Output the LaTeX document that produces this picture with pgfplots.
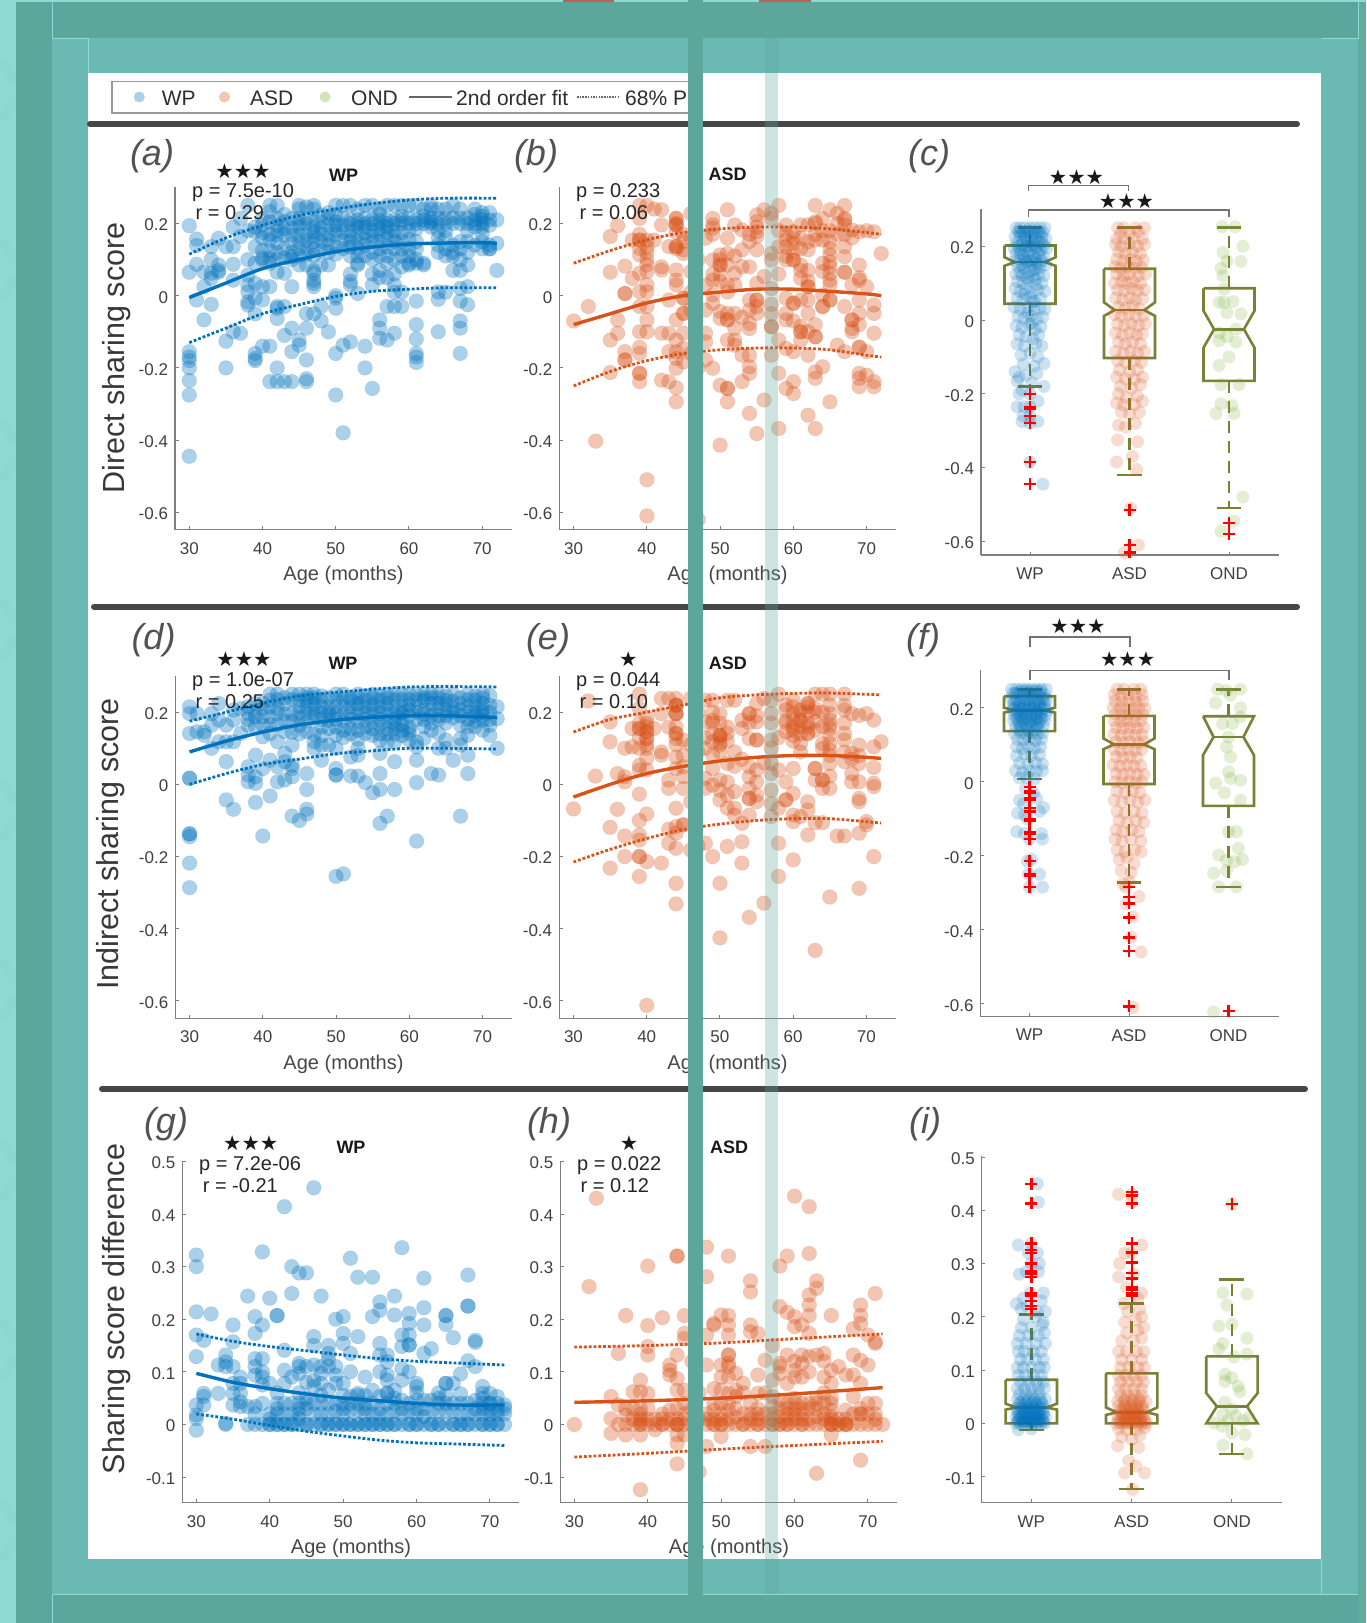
\documentclass[border=0pt]{standalone}
\usepackage{fontspec}
\usepackage{pgfplots}
\pgfplotsset{compat=1.18}
\setmainfont{Liberation Sans}
\newfontfamily\symf{DejaVu Sans}
\definecolor{wp}{HTML}{0072BD}
\definecolor{asd}{HTML}{D95319}
\definecolor{ond}{HTML}{77AC30}
\definecolor{bx}{HTML}{7A8036}
\definecolor{tdark}{HTML}{5CA69C}
\definecolor{tmed}{HTML}{6BB9B3}
\definecolor{tlight}{HTML}{8FDAD2}
\definecolor{axc}{HTML}{7F7F7F}
\definecolor{tkc}{HTML}{404040}
\definecolor{redbit}{HTML}{B5655F}
\newcommand\fs[1]{\fontsize{#1}{#1}\selectfont}
\pgfplotsset{
 base/.style={scale only axis,anchor=south west,clip=false,axis x line*=bottom,axis y line*=left,
  tick align=inside,major tick length=3.5pt,axis line style={draw=axc,line width=1.3pt},
  tick style={draw=axc,line width=1pt},
  tick label style={font=\fs{17},text=tkc},
  xticklabel shift=9pt,
  yticklabel style={xshift=-3.5pt,yshift=-1.5pt},
  scaled ticks=false},
 scat/.style={base,width=336.5pt,height=342.2pt,xmin=28.05,xmax=74,ymin=-.648,ymax=.3,
  xtick={30,40,50,60,70},xticklabels={30,40,50,60,70},
  ytick={-.6,-.4,-.2,0,.2},yticklabels={-0.6,-0.4,-0.2,0,0.2}},
 diffy/.style={ytick={-.1,0,.1,.2,.3,.4,.5},yticklabels={-0.1,0,0.1,0.2,0.3,0.4,0.5}},
 bxa/.style={base,xtick={1,2,3},xticklabels={WP,ASD,OND},ytick={-.6,-.4,-.2,0,.2},yticklabels={-0.6,-0.4,-0.2,0,0.2}},
 mw/.style={only marks,mark=*,mark size=7.4pt,mark options={fill=wp,fill opacity=.33,draw=wp,draw opacity=.12,line width=.6pt}},
 ma/.style={only marks,mark=*,mark size=7.4pt,mark options={fill=asd,fill opacity=.33,draw=asd,draw opacity=.12,line width=.6pt}},
 jw/.style={only marks,mark=*,mark size=6.5pt,mark options={fill=wp,fill opacity=.2,draw=wp,draw opacity=0,line width=0pt}},
 ja/.style={only marks,mark=*,mark size=6.5pt,mark options={fill=asd,fill opacity=.2,draw=asd,draw opacity=0,line width=0pt}},
 jo/.style={only marks,mark=*,mark size=6.5pt,mark options={fill=ond,fill opacity=.2,draw=ond,draw opacity=0,line width=0pt}},
 fl/.style={smooth,line width=3.4pt,#1,no marks},
 fd/.style={smooth,line width=2.8pt,#1,no marks,dash pattern=on 2.8pt off 2pt},
 boxl/.style={bx,line width=2.6pt,no marks,line join=miter},
 whk/.style={bx,line width=2.8pt,no marks,dash pattern=on 12pt off 8pt},
 out/.style={only marks,mark=+,mark size=6pt,mark options={draw=red,line width=2.3pt}},
}
\newcommand\NB[8]{%
 \pgfmathsetmacro\xl{#1-.256}\pgfmathsetmacro\xr{#1+.256}\pgfmathsetmacro\nl{#1-.15}\pgfmathsetmacro\nr{#1+.15}\pgfmathsetmacro\cl{#1-.125}\pgfmathsetmacro\cr{#1+.125}%
 \edef\tmp{\noexpand\addplot[boxl] coordinates {(\xl,#2)(\xr,#2)(\xr,#3)(\nr,#4)(\xr,#5)(\xr,#6)(\xl,#6)(\xl,#5)(\nl,#4)(\xl,#3)(\xl,#2)};
 \noexpand\addplot[boxl] coordinates {(\nl,#4)(\nr,#4)};
 \noexpand\addplot[whk] coordinates {(#1,#2)(#1,#7)};
 \noexpand\addplot[whk] coordinates {(#1,#6)(#1,#8)};
 \noexpand\addplot[boxl] coordinates {(\cl,#7)(\cr,#7)};
 \noexpand\addplot[boxl] coordinates {(\cl,#8)(\cr,#8)};}\tmp}
\begin{document}
\begin{tikzpicture}
\begin{scope}[x=1pt,y=-1pt]
\clip (0,0) rectangle (1366,1623);
\fill[tlight] (0,0) rectangle (1366,1623);
\foreach \q in {60,240,420,600,780,960,1140,1320,1500}{\draw[line width=9pt,color=tlight!94!tdark] (0,\q) -- (16,\q+22) (0,\q+60) -- (16,\q+38);}
\fill[tdark] (16,2) rectangle (1358,1623);
\fill[tmed] (52,38) rectangle (1358,1594);
\fill[tdark!80!tmed] (1358,2) rectangle (1366,1623);
\fill[white] (87.5,73) rectangle (1321,1559);
\fill[redbit] (563,0) rectangle (614,2) (759,0) rectangle (811,2);
\draw[tlight,line width=.8pt] (52,2) -- (52,38) -- (88,38) -- (88,73);
\draw[tlight,line width=.8pt] (1358,2) -- (1358,38) -- (1322,38);
\draw[tlight,line width=.8pt] (52,1623) -- (52,1594) -- (1358,1594);
\draw[tlight,line width=.8pt] (1321,1559) -- (1321,1594);
\draw[black!40,line width=1.4pt] (112,81.5) rectangle (695,113);
\draw[black!72,line width=6pt,line cap=round] (90,124.3) -- (1297,124.3);
\draw[black!72,line width=6pt,line cap=round] (94,606.7) -- (1297,606.7);
\draw[black!72,line width=6pt,line cap=round] (102,1088.7) -- (1305,1088.7);
\end{scope}

% legend symbols
\begin{axis}[scale only axis,hide axis,anchor=south west,at={(112pt,-113pt)},width=583pt,height=31.5pt,xmin=112,xmax=695,ymin=81.5,ymax=113,y dir=reverse,clip=false]
\addplot[only marks,mark=*,mark size=5.5pt,mark options={fill=wp,fill opacity=.33,draw=wp,draw opacity=0}] coordinates {(139.3,97)};
\addplot[only marks,mark=*,mark size=5.5pt,mark options={fill=asd,fill opacity=.33,draw=asd,draw opacity=0}] coordinates {(224.5,97)};
\addplot[only marks,mark=*,mark size=5.5pt,mark options={fill=ond,fill opacity=.33,draw=ond,draw opacity=0}] coordinates {(325,97)};
\addplot[black!60,line width=1.8pt,no marks] coordinates {(408.5,97)(452,97)};
\addplot[black!60,line width=1.6pt,no marks,dash pattern=on 1.5pt off 1.2pt] coordinates {(577,97)(620,97)};
\end{axis}

% (a)
\begin{axis}[scat,at={(175pt,-529.6pt)}]
\addplot[mw] coordinates {(30,.194)(30,.065)(30,-.155)(30,-.17)(30,-.18)(30,-.2)(30,-.235)(30,-.275)(30,-.445)
(31,.157)(31,.139)(31,.087)(31,-.012)(32,.065)(32,.025)(32,-.067)(33,.136)(33,.1)(33,.062)(33,.048)(33,-.024)
(34,.159)(34,.085)(34,.07)(34,.065)(35,.136)(35,-.126)(35,-.2)(36,.19)(36,.136)(36,.087)(36,.043)(36,-.1)
(37,.214)(37,.164)(37,-.104)(38,.25)(38,.18)(38,.1)(38,.057)(38,.03)(38,.011)(38,-.017)(38,-.026)
(39,.177)(39,.136)(39,.09)(39,.034)(39,-.007)(39,-.05)(39,-.16)(39,-.174)(39,-.18)
(40,.214)(40,.196)(40,.159)(40,.1)(40,.105)(40,.025)(40,-.012)(40,-.14)
(41,.25)(41,.233)(41,.205)(41,.154)(41,.103)(41,.09)(41,.025)(41,-.14)(41,-.238)
(42,.25)(42,.214)(42,.18)(42,.168)(42,.1)(42,.065)(42,-.03)(42,-.035)(42,-.063)(42,-.2)(42,-.238)
(43,.205)(43,.168)(43,.131)(43,.062)(43,-.03)(43,-.11)(43,-.238)
(44,.214)(44,.187)(44,.168)(44,.108)(44,.1)(44,.025)(44,-.09)(44,-.155)(44,-.238)
(45,.25)(45,.24)(45,.214)(45,.19)(45,.168)(45,.15)(45,.131)(45,.085)(45,-.123)(45,-.137)
(46,.246)(46,.214)(46,.2)(46,.154)(46,.131)(46,.085)(46,-.05)(46,-.09)(46,-.178)(46,-.23)(46,-.238)
(47,.25)(47,.24)(47,.205)(47,.177)(47,.15)(47,.131)(47,.07)(47,.062)(47,.043)(47,.034)(47,.025)(47,-.05)
(48,.224)(48,.187)(48,.15)(48,.085)(48,-.03)(48,-.07)(49,.214)(49,.196)(49,.17)(49,.14)(49,.085)(49,-.1)
(50,.25)(50,.224)(50,.205)(50,.196)(50,.168)(50,.136)(50,0)(50,-.007)(50,-.035)(50,-.16)(50,-.275)
(51,.25)(51,.196)(51,.131)(51,-.137)(51,-.38)
(52,.25)(52,.2)(52,.18)(52,.15)(52,.11)(52,.06)(52,.04)(52,.03)(52,-.128)
(53,.24)(53,.21)(53,.19)(53,.15)(53,.11)(53,.09)(53,.085)(53,.006)
(54,.25)(54,.2)(54,.19)(54,.14)(54,.11)(54,-.14)(54,-.2)
(55,.25)(55,.2)(55,.18)(55,.15)(55,.12)(55,.1)(55,.06)(55,.03)(55,-.257)
(56,.24)(56,.21)(56,.2)(56,.17)(56,.13)(56,.07)(56,.05)(56,-.067)(56,-.09)(56,-.118)
(57,.25)(57,.2)(57,.19)(57,.16)(57,.11)(57,.09)(57,.05)(57,-.03)(57,-.123)
(58,.25)(58,.21)(58,.18)(58,.15)(58,.13)(58,.1)(58,.06)(58,.03)(58,.01)(58,-.03)(58,-.104)
(59,.25)(59,.22)(59,.2)(59,.15)(59,.13)(59,.08)(59,.01)(59,-.03)
(60,.25)(60,.2)(60,.18)(60,.13)(60,.09)(60,.085)
(61,.25)(61,.21)(61,.2)(61,.13)(61,.1)(61,.09)(61,-.015)(61,-.08)(61,-.12)(61,-.16)(61,-.17)(61,-.185)
(62,.22)(62,.2)(62,.09)(62,.085)(63,.25)(63,.24)(63,.2)(63,.205)
(64,.24)(64,.2)(64,.16)(64,.14)(64,.12)(64,.01)(64,-.01)(64,-.1)
(65,.24)(65,.2)(65,.16)(65,.13)(65,.11)(65,.01)(66,.25)(66,.2)(66,.14)(66,.11)(66,.07)
(67,.24)(67,.2)(67,.15)(67,.1)(67,.07)(67,.02)(67,-.015)(67,-.07)(67,-.09)(67,-.16)
(68,.2)(68,.15)(68,.12)(68,.085)(68,.025)(68,-.025)
(69,.24)(69,.21)(69,.2)(69,.14)(70,.23)(70,.21)(70,.19)(70,.17)(70,.15)(70,.13)
(71,.21)(71,.14)(71,.13)(71,.13)(72,.21)(72,.145)(72,.07)
(39,.19)(40,.175)(40,.125)(41,.17)(41,.125)(42,.195)(42,.145)(42,.12)(43,.225)(43,.185)(43,.105)(44,.145)(44,.12)(45,.2)(45,.11)(46,.17)(46,.115)(47,.19)(47,.165)(47,.112)(48,.205)(48,.17)(48,.125)(49,.23)(49,.155)(49,.12)(50,.18)(50,.115)(51,.215)(51,.175)(51,.152)(52,.21)(52,.165)(52,.135)(53,.2)(53,.17)(53,.13)(54,.215)(54,.175)(54,.155)(55,.21)(55,.165)(56,.225)(56,.185)(56,.15)(56,.11)(57,.21)(57,.175)(57,.135)(58,.2)(58,.165)(59,.21)(59,.175)(59,.11)(60,.215)(60,.155)(60,.11)(61,.185)(61,.15)(62,.24)(62,.21)(63,.215)(63,.19)(64,.215)(64,.18)(65,.215)(65,.18)(66,.215)(66,.12)(67,.215)(67,.13)(68,.215)(68,.18)(69,.225)(69,.19)(70,.2)(70,.22)(71,.195)(71,.23)};
\addplot[fd=wp] coordinates {(30,.115)(35,.16)(40,.195)(45,.222)(50,.24)(55,.255)(60,.265)(65,.27)(72,.27)};
\addplot[fd=wp] coordinates {(30,-.13)(35,-.09)(40,-.05)(45,-.025)(50,-.002)(55,.012)(60,.018)(65,.022)(72,.022)};
\addplot[fl=wp] coordinates {(30,-.005)(35,.035)(40,.075)(45,.1)(50,.122)(55,.135)(60,.143)(65,.146)(70,.147)(72,.145)};
\end{axis}

% (b)
\begin{axis}[scat,at={(559.4pt,-529.6pt)}]
\addplot[ma] coordinates {(30,-.07)(32,-.03)(33,-.403)(35,.164)(35,.065)(35,-.123)(35,-.213)(36,.194)(36,-.067)(36,-.104)
(37,.082)(37,.006)(37,.006)(37,-.155)(37,-.178)(37,-.178)(38,.154)(38,.048)
(39,.25)(39,.214)(39,.154)(39,.154)(39,.131)(39,.113)(39,.062)(39,.011)(39,-.03)(39,-.1)(39,-.143)(39,-.16)(39,-.215)(39,-.215)(39,-.238)
(40,.25)(40,.154)(40,.099)(40,.085)(40,.067)(40,.03)(40,.011)(40,-.03)(40,-.067)(40,-.1)(40,-.51)(40,-.61)
(41,.24)(41,.154)(42,.238)(42,.196)(42,.08)(42,.071)(42,-.104)(42,-.234)
(43,.136)(43,-.012)(43,-.104)(43,-.155)(43,-.238)
(44,.214)(44,.214)(44,.196)(44,.196)(44,.136)(44,.136)(44,.071)(44,.043)(44,.03)(44,-.067)(44,-.123)(44,-.155)(44,-.174)(44,-.201)(44,-.255)(44,-.294)
(45,.127)(45,.117)(45,-.007)(45,-.007)(45,-.049)(45,-.049)(45,-.104)(45,-.146)(45,-.183)
(46,.228)(46,.067)(46,.16)(46,-.04)(46,-.16)(47,.1)(47,-.2)(47,-.62)
(48,.159)(48,.03)(48,-.104)(48,-.128)(48,-.178)
(49,.214)(49,.196)(49,.187)(49,.099)(49,.043)(49,.002)(49,-.021)(49,-.201)
(50,.113)(50,.085)(50,.085)(50,.039)(50,-.044)(50,-.063)(50,-.248)(50,-.414)
(51,.238)(51,.159)(51,.117)(51,.03)(51,-.049)(51,-.067)(51,-.067)(51,-.123)(51,-.257)(51,-.257)(51,-.294)
(52,.196)(52,.062)(52,.03)(52,-.049)(52,-.123)(52,-.137)
(53,.182)(53,.127)(53,.08)(53,-.165)(53,-.238)
(54,.15)(54,.08)(54,-.012)(54,-.077)(54,-.091)(54,-.165)(54,-.197)(54,-.215)(54,-.326)
(55,.224)(55,.205)(55,.177)(55,.164)(55,.127)(55,.034)(55,-.012)(55,-.012)(55,-.049)(55,-.382)
(56,.238)(56,.053)(56,-.289)
(57,.228)(57,.214)(57,.117)(57,.099)(57,.02)(57,-.024)(57,-.086)(57,-.086)(57,-.165)
(58,.25)(58,.136)(58,-.123)(58,-.215)(58,-.368)
(59,.196)(59,.154)(59,.136)(59,.099)(59,-.007)(59,-.049)(59,-.067)(59,-.146)(59,-.257)
(60,.177)(60,.145)(60,.099)(60,.099)(60,-.021)(60,-.021)(60,-.155)(60,-.238)(60,-.271)
(61,.196)(61,.159)(61,.085)(61,.048)(61,-.012)(61,-.1)(61,-.1)(61,-.123)
(62,.196)(62,.127)(62,.025)(62,.025)(62,-.012)(62,-.049)(62,-.1)(62,-.165)(62,-.331)
(63,.25)(63,.205)(63,.154)(63,-.114)(63,-.114)(63,-.211)(63,-.229)(63,-.368)
(64,.214)(64,.154)(64,.067)(64,.002)(64,-.03)(64,-.03)(64,-.197)
(65,.238)(65,.15)(65,.131)(65,.113)(65,.094)(65,.062)(65,.043)(65,-.012)(65,-.012)(65,-.294)
(66,.228)(66,-.137)(67,.25)(67,.214)(67,.196)(67,.136)(67,.108)(67,.065)(67,.065)(67,-.03)(67,-.155)
(68,.182)(68,.03)(68,-.067)(68,-.067)(68,-.091)(68,-.1)
(69,.177)(69,.085)(69,.043)(69,-.012)(69,-.049)(69,-.143)(69,-.143)(69,-.215)(69,-.229)(69,-.252)
(70,.025)(70,-.155)(70,-.22)(71,.177)(71,-.026)(71,-.049)(71,-.104)(71,-.238)(71,-.252)(72,.117)
(39,.17)(40,.12)(40,.135)(44,.2)(44,.175)(44,.13)(45,.15)(49,.17)(49,.06)(50,.1)(50,.06)(51,.085)(51,.01)(52,.11)(54,.17)(55,.19)(55,-.03)(59,.17)(59,.11)(60,.16)(60,.12)(61,.13)(61,.07)(62,.15)(62,.07)(62,.04)(63,.2)(63,.17)(64,.18)(64,.09)(65,.18)(65,.08)(65,.03)(66,.2)(66,.17)(67,.21)(67,.17)(68,.16)(69,.05)(69,-.08)(70,.18)(53,-.06)(54,-.04)(57,-.05)(58,.18)(58,.06)(60,-.07)(61,-.085)(63,-.08)(52,-.09)(48,-.04)(46,.01)(45,.17)};
\addplot[fd=asd] coordinates {(30,.09)(35,.125)(40,.155)(45,.175)(50,.185)(55,.19)(60,.19)(65,.185)(70,.175)(72,.17)};
\addplot[fd=asd] coordinates {(30,-.25)(35,-.21)(40,-.18)(45,-.16)(50,-.15)(55,-.145)(60,-.145)(65,-.15)(70,-.165)(72,-.17)};
\addplot[fl=asd] coordinates {(30,-.08)(35,-.05)(40,-.02)(45,0)(50,.01)(55,.018)(60,.018)(65,.012)(70,.005)(72,0)};
\end{axis}

% (c)
\begin{axis}[bxa,at={(981pt,-555pt)},width=298pt,height=346.4pt,xmin=.5075,xmax=3.5025,ymin=-.637,ymax=.302]
\addplot[jw] coordinates {(.86,.25)(.9,.25)(.95,.25)(1,.25)(1.05,.25)(1.1,.25)(1.15,.25)(.88,.24)(.93,.238)(.97,.24)(1.03,.238)(1.08,.24)(1.13,.238)(.85,.225)(.9,.228)(.96,.222)(1.01,.226)(1.06,.22)(1.12,.225)(1.16,.22)(.87,.21)(.92,.205)(.98,.212)(1.04,.206)(1.09,.21)(1.14,.203)(.84,.195)(.9,.19)(.95,.197)(1,.19)(1.05,.195)(1.11,.19)(1.17,.195)(.86,.18)(.93,.175)(.98,.18)(1.03,.175)(1.08,.18)(1.14,.172)(.85,.16)(.9,.165)(.96,.158)(1.01,.162)(1.06,.155)(1.12,.16)(1.16,.15)(.88,.145)(.94,.14)(1,.148)(1.05,.138)(1.1,.142)(.86,.125)(.92,.12)(.98,.128)(1.03,.118)(1.09,.125)(1.14,.12)(.87,.105)(.93,.1)(.99,.105)(1.06,.095)(1.12,.1)(.85,.085)(.9,.078)(.96,.085)(1.02,.075)(1.08,.082)(1.15,.078)(.87,.06)(.93,.055)(1,.062)(1.05,.05)(1.11,.058)(.84,.035)(.9,.03)(.97,.035)(1.04,.028)(1.1,.032)(1.15,.03)(.88,.01)(.94,.005)(1.01,.01)(1.07,.003)(1.13,.008)(.86,-.015)(.92,-.02)(.99,-.012)(1.05,-.025)(1.11,-.018)(.89,-.04)(.96,-.045)(1.03,-.05)(1.09,-.04)(.87,-.065)(.94,-.07)(1.06,-.065)(1.12,-.07)(.91,-.095)(1,-.09)(1.08,-.1)(.93,-.12)(1.14,-.118)(1.04,-.125)(.85,-.14)(.89,-.155)(.96,-.15)(1.07,-.145)(.87,-.165)(1.02,-.17)(1.14,-.18)(.92,-.19)(.89,-.2)(1,-.2)(.87,-.235)(.94,-.235)(1.08,-.22)(1,-.235)(.93,-.26)(1,-.26)(.92,-.275)(1,-.28)(1.08,-.275)(1,-.385)(1.13,-.445)
(.88,.2)(.93,.215)(.97,.2)(1.02,.215)(1.07,.2)(1.12,.21)(.9,.18)(.95,.165)(1,.2)(1.05,.165)(1.1,.175)(.92,.15)(.98,.16)(1.03,.135)(1.08,.15)(.9,.24)(1,.24)(1.1,.235)(.95,.23)(1.05,.235)(.9,.13)(.97,.115)(1.05,.11)(.95,.07)(1.03,.05)(.98,.02)(1.02,-.01)};
\NB{1}{.202}{.17}{.157}{.147}{.044}{.25}{-.18}
\addplot[ja] coordinates {(1.88,.25)(1.94,.25)(2.06,.25)(2.15,.25)(1.91,.235)(2,.235)(2.09,.24)(1.87,.22)(1.95,.22)(2.04,.222)(2.13,.22)(1.86,.205)(1.92,.2)(2,.205)(2.08,.2)(2.15,.205)(1.89,.185)(1.96,.18)(2.03,.185)(2.11,.18)(1.87,.165)(1.94,.16)(2.01,.165)(2.07,.16)(2.14,.162)(1.85,.145)(1.91,.14)(1.98,.145)(2.05,.14)(2.12,.143)(1.87,.125)(1.94,.12)(2,.125)(2.09,.12)(2.16,.125)(1.85,.1)(1.92,.105)(1.98,.1)(2.04,.105)(2.11,.1)(1.88,.082)(1.95,.08)(2.02,.085)(2.08,.08)(2.15,.082)(1.86,.06)(1.93,.055)(2,.06)(2.06,.055)(2.13,.058)(1.89,.035)(1.96,.032)(2.03,.038)(2.1,.03)(1.85,.015)(1.92,.01)(1.99,.015)(2.06,.01)(2.14,.012)(1.88,-.01)(1.95,-.015)(2.02,-.01)(2.09,-.015)(2.16,-.01)(1.86,-.035)(1.93,-.04)(2,-.035)(2.07,-.04)(2.13,-.038)(1.89,-.06)(1.96,-.065)(2.03,-.06)(2.11,-.065)(1.86,-.085)(1.94,-.09)(2.01,-.085)(2.08,-.09)(2.15,-.085)(1.88,-.11)(1.96,-.115)(2.05,-.11)(2.12,-.115)(1.9,-.135)(2,-.14)(2.08,-.135)(1.87,-.155)(1.96,-.16)(2.05,-.16)(2.13,-.155)(1.91,-.18)(2.02,-.185)(2.11,-.175)(1.89,-.2)(1.97,-.21)(2.08,-.205)(1.87,-.225)(1.94,-.23)(2.05,-.23)(2.13,-.22)(1.92,-.25)(2,-.255)(2.1,-.25)(1.89,-.285)(1.96,-.29)(2.06,-.28)(1.88,-.325)(2.08,-.33)(1.87,-.385)(2.03,-.37)(2.07,-.405)(2.01,-.51)(2.09,-.61)(1.95,-.63)};
\NB{2}{.139}{.048}{.027}{.011}{-.103}{.25}{-.42}
\addplot[jo] coordinates {(2.93,.253)(3.06,.253)(3.14,.2)(2.94,.183)(2.98,.16)(3.12,.159)(2.92,.14)(2.94,.12)(2.95,.084)(2.95,.048)(3.04,.05)(2.9,.048)(3.12,.017)(2.9,-.035)(3.07,-.025)(2.9,-.056)(2.98,-.045)(3.07,-.06)(2.9,-.123)(2.92,-.175)(3.1,-.175)(2.92,-.227)(3.03,-.232)(2.87,-.253)(3.05,-.253)(3.14,-.48)(3.05,-.545)(2.92,-.573)(3,-.1)(2.98,.02)};
\NB{3}{.086}{.025}{-.025}{-.075}{-.165}{.25}{-.51}
\addplot[out] coordinates {(1,-.2)(1,-.235)(1,-.24)(1,-.26)(1,-.28)(1,-.385)(1,-.445)(2,-.515)(2,-.61)(2,-.63)(3,-.55)(3,-.58)};
\end{axis}

% (d)
\begin{axis}[scat,at={(175.3pt,-1018.3pt)}]
\addplot[mw] coordinates {(30,.215)(30,.196)(30,.141)(30,.017)(30,.017)(30,-.137)(30,-.137)(30,-.145)(30,-.218)(30,-.286)
(31,.196)(31,.146)(32,.146)(32,.136)(33,.196)(33,.1)(33,.164)(34,.224)(34,.178)(34,.118)(35,.164)(35,.118)(35,.063)(35,-.043)
(36,.206)(36,.178)(36,.118)(36,-.069)(37,.21)(37,.141)(38,.196)(38,.164)(38,.049)(38,.026)(38,.007)
(39,.224)(39,.187)(39,.081)(39,.021)(39,.003)(39,-.05)(40,.21)(40,.187)(40,.132)(40,.044)(40,-.143)
(41,.25)(41,.233)(41,.187)(41,.141)(41,.067)(41,-.032)(42,.25)(42,.196)(42,.118)(42,.049)(42,.007)
(43,.224)(43,.196)(43,.146)(43,.086)(43,.063)(43,.012)(44,.25)(44,.196)(44,.109)(44,.053)(44,.044)(44,.021)(44,-.088)
(45,.25)(45,.233)(45,.2)(45,.164)(45,-.1)(46,.25)(46,.233)(46,.196)(46,.146)(46,.03)(46,-.014)(46,-.069)(46,-.082)
(47,.25)(47,.224)(47,.196)(47,.118)(47,.1)(48,.233)(48,.196)(48,.159)(48,.109)(48,.067)
(49,.215)(49,.178)(49,.109)(50,.25)(50,.196)(50,.159)(50,.136)(50,.1)(50,.044)(50,.026)(50,.026)(50,-.255)
(51,.25)(51,.196)(51,.15)(51,-.248)(52,.233)(52,.196)(52,.155)(52,.076)(52,.023)
(53,.25)(53,.224)(53,.196)(53,.15)(53,.1)(53,.081)(53,.023)(54,.233)(54,.196)(54,.141)(54,.005)
(55,.25)(55,.22)(55,.196)(55,.136)(55,-.023)(56,.233)(56,.196)(56,.164)(56,.123)(56,.086)(56,.03)(56,-.014)(56,-.108)
(57,.25)(57,.224)(57,.196)(57,.155)(57,.118)(57,-.088)(58,.25)(58,.215)(58,.196)(58,.169)(58,.118)(58,.063)(58,-.014)
(59,.25)(59,.215)(59,.196)(59,.178)(59,.15)(60,.25)(60,.206)(60,.159)(60,.141)(60,.123)
(61,.25)(61,.2)(61,.118)(61,.104)(61,.067)(61,.005)(61,-.157)(62,.25)(62,.233)(62,.206)(62,.127)
(63,.25)(63,.224)(63,.206)(63,.03)(64,.25)(64,.21)(64,.141)(64,.1)(64,.026)(65,.233)(65,.206)(65,.123)(65,.1)
(66,.25)(66,.2)(66,.067)(67,.224)(67,.206)(67,.164)(67,.127)(67,.109)(67,-.088)
(68,.25)(68,.2)(68,.136)(68,.081)(68,.03)(69,.233)(69,.215)(69,.2)(70,.25)(70,.224)(70,.2)(70,.178)
(71,.246)(71,.219)(71,.164)(71,.136)(72,.215)(72,.182)(72,.1)
(46,.215)(47,.21)(48,.215)(49,.2)(50,.215)(51,.215)(52,.215)(53,.175)(54,.215)(55,.175)(56,.215)(57,.175)(58,.14)(59,.2)(60,.22)(62,.16)(63,.17)(65,.17)(66,.21)(64,.18)(69,.175)(70,.21)(68,.16)
(38,.215)(38,.18)(39,.2)(39,.16)(40,.225)(40,.165)(41,.215)(41,.165)(42,.235)(42,.21)(42,.165)(43,.24)(43,.175)(44,.235)(44,.175)(44,.145)(45,.215)(45,.185)(45,.14)(46,.24)(46,.175)(47,.24)(47,.185)(47,.14)(48,.245)(48,.18)(48,.135)(49,.24)(49,.195)(49,.155)(50,.235)(50,.18)(51,.235)(51,.175)(51,.13)(52,.24)(52,.18)(52,.14)(53,.24)(53,.21)(53,.125)(54,.245)(54,.18)(54,.16)(55,.24)(55,.21)(55,.155)(56,.245)(56,.18)(56,.14)(57,.24)(57,.21)(57,.14)(58,.235)(58,.18)(58,.155)(59,.235)(59,.165)(59,.135)(60,.235)(60,.19)(60,.15)(61,.235)(61,.215)(61,.18)(62,.24)(62,.195)(62,.18)(63,.24)(63,.19)(63,.15)(64,.24)(64,.225)(64,.19)(65,.245)(65,.22)(65,.19)(66,.23)(66,.185)(67,.24)(67,.19)(68,.235)(68,.215)(68,.18)(69,.245)(69,.19)(69,.16)(70,.24)(70,.19)(70,.15)(71,.2)(71,.18)};
\addplot[fd=wp] coordinates {(30,.175)(35,.2)(40,.225)(45,.245)(50,.255)(60,.27)(72,.27)};
\addplot[fd=wp] coordinates {(30,0)(35,.03)(40,.055)(45,.07)(50,.085)(55,.093)(60,.1)(65,.1)(72,.098)};
\addplot[fl=wp] coordinates {(30,.09)(35,.12)(40,.145)(45,.165)(50,.178)(55,.186)(60,.19)(65,.19)(70,.187)(72,.185)};
\end{axis}

% (e)
\begin{axis}[scat,at={(559.2pt,-1018.3pt)}]
\addplot[ma] coordinates {(30,-.068)(32,.231)(33,.023)(35,.173)(35,.118)(35,-.119)(35,-.232)(36,.03)(36,-.069)
(37,.1)(37,.021)(37,.007)(37,-.143)(37,-.2)(38,.155)(38,.104)(39,.25)(39,.21)(39,.155)(39,.155)(39,.1)(39,.053)(39,.04)(39,-.027)(39,-.1)(39,-.14)(39,-.154)(39,-.2)(39,-.2)(39,-.255)
(40,.169)(40,.146)(40,.146)(40,.127)(40,.127)(40,.109)(40,.072)(40,.04)(40,-.082)(40,-.214)(40,-.612)(41,.155)
(42,.238)(42,.196)(42,.09)(42,.081)(42,-.218)(43,.238)(43,.159)(43,.012)(43,-.011)(43,-.124)(43,-.163)
(44,.238)(44,.219)(44,.219)(44,.196)(44,.196)(44,.196)(44,.141)(44,.141)(44,.127)(44,.076)(44,.044)(44,-.066)(44,-.117)(44,-.135)(44,-.177)(44,-.274)(44,-.331)
(45,.123)(45,.049)(45,.021)(45,-.011)(45,-.112)(45,-.112)(46,.238)(46,-.048)(46,-.182)(47,.09)(47,-.17)
(48,.233)(48,.173)(48,.1)(48,.017)(48,-.011)(48,-.163)
(49,.233)(49,.2)(49,.178)(49,.118)(49,.081)(49,.044)(49,-.002)(49,-.2)
(50,.196)(50,.136)(50,.136)(50,.109)(50,.09)(50,.012)(50,-.016)(50,-.043)(50,-.274)(50,-.425)
(51,.233)(51,.159)(51,.141)(51,.058)(51,.007)(51,-.066)(51,-.172)(52,.233)(52,.09)(52,-.02)(52,-.066)(52,-.085)
(53,.178)(53,.155)(53,-.108)(53,-.159)(53,-.218)(54,.196)(54,.196)(54,.127)(54,.049)(54,.021)(54,-.011)(54,-.039)(54,-.039)(54,-.085)(54,-.368)
(55,.224)(55,.173)(55,.123)(55,.123)(55,.04)(55,.007)(55,-.048)(56,.238)(56,-.329)
(57,.233)(57,.196)(57,.123)(57,.1)(57,.058)(57,.03)(57,-.016)(57,-.053)(57,-.089)
(58,.25)(58,-.066)(58,-.163)(58,-.255)(59,.206)(59,.178)(59,.146)(59,.007)(59,-.043)(59,-.043)
(60,.233)(60,.196)(60,.159)(60,.136)(60,.044)(60,-.025)(60,-.085)(60,-.103)(60,-.209)
(61,.206)(61,.178)(61,.178)(61,.113)(61,.09)(61,-.089)
(62,.224)(62,.224)(62,.2)(62,.141)(62,.141)(62,-.048)(62,-.071)(62,-.14)
(63,.25)(63,.2)(63,.044)(63,.044)(63,.012)(63,-.106)(63,-.46)
(64,.25)(64,.113)(64,.012)(64,.012)(64,-.011)(64,-.106)
(65,.25)(65,.196)(65,.178)(65,.155)(65,.136)(65,.113)(65,.095)(65,.058)(65,.023)(65,-.011)(65,-.312)
(66,-.143)(67,.25)(67,.219)(67,.206)(67,.141)(67,.123)(67,.063)(67,-.143)
(68,.196)(68,.086)(68,.03)(68,.007)(69,.191)(69,.109)(69,.058)(69,.007)(69,-.039)(69,-.048)(69,-.135)(69,-.288)
(70,.196)(70,-.103)(70,-.112)(71,.178)(71,.104)(71,.047)(71,.003)(71,-.006)(71,-.2)(72,.118)
(39,.17)(39,.13)(40,.185)(40,.16)(40,.1)(44,.22)(44,.16)(44,.11)(49,.17)(49,.14)(50,.17)(50,.13)(50,.115)(51,.12)(54,.17)(55,.19)(59,.22)(59,.17)(60,.215)(60,.175)(60,.15)(60,.12)(61,.2)(61,.16)(61,.14)(62,.215)(62,.17)(62,.16)(63,.21)(63,.175)(63,.15)(64,.2)(64,.16)(64,.1)(65,.22)(65,.165)(65,.08)(67,.17)(67,.09)(68,.07)(69,.08)(45,.08)(46,.11)(47,.2)(48,.13)(52,.05)(53,.07)(57,.17)(58,.13)(58,.04)(56,.06)(51,-.03)(55,-.03)};
\addplot[fd=asd] coordinates {(30,.145)(35,.18)(40,.2)(45,.22)(50,.24)(55,.248)(60,.252)(65,.253)(72,.248)};
\addplot[fd=asd] coordinates {(30,-.215)(35,-.18)(40,-.15)(45,-.125)(50,-.11)(55,-.1)(60,-.095)(65,-.095)(72,-.107)};
\addplot[fl=asd] coordinates {(30,-.035)(35,0)(40,.03)(45,.05)(50,.065)(55,.075)(60,.08)(65,.08)(70,.075)(72,.072)};
\end{axis}

% (f)
\begin{axis}[bxa,at={(980.5pt,-1016.7pt)},width=298.2pt,height=346.7pt,xmin=.5075,xmax=3.5045,ymin=-.635,ymax=.302]
\addplot[jw] coordinates {(.82,.25)(.87,.25)(.92,.25)(.97,.25)(1.02,.25)(1.07,.25)(1.12,.25)(1.17,.25)(.83,.238)(.88,.24)(.94,.236)(.99,.24)(1.04,.236)(1.09,.24)(1.15,.236)(.82,.225)(.87,.222)(.93,.226)(.98,.222)(1.03,.226)(1.08,.222)(1.13,.225)(1.17,.222)(.84,.21)(.89,.208)(.95,.21)(1,.207)(1.05,.21)(1.1,.207)(1.15,.21)(.83,.195)(.88,.193)(.93,.197)(.98,.193)(1.03,.196)(1.08,.192)(1.13,.196)(1.18,.193)(.85,.18)(.9,.178)(.95,.181)(1,.178)(1.06,.18)(1.11,.177)(1.16,.18)(.84,.165)(.89,.163)(.94,.166)(1,.162)(1.05,.165)(1.1,.162)(1.15,.165)(.86,.148)(.92,.15)(.97,.147)(1.03,.15)(1.08,.147)(1.14,.15)(.85,.13)(.91,.133)(.97,.128)(1.02,.132)(1.08,.128)(1.13,.132)(.88,.115)(.94,.112)(1,.116)(1.06,.112)(1.12,.115)(.87,.095)(.93,.09)(.99,.095)(1.05,.09)(1.11,.094)(.87,.07)(.95,.075)(1.02,.07)(1.1,.073)(.9,.05)(.98,.047)(1.06,.052)(1.13,.048)(.86,.03)(.93,.025)(1,.03)(1.07,.028)(1.13,.03)(.9,.01)(.97,.012)(1.05,.008)(.96,-.02)(1.04,-.03)(.9,-.05)(.94,-.06)(1.07,-.045)(1.14,-.07)(.88,-.085)(.95,-.09)(1.1,-.08)(.98,-.1)(.87,-.135)(.95,-.14)(1.12,-.14)(1.13,-.155)(1,-.155)(.98,-.215)(1.02,-.21)(1.1,-.25)(.99,-.25)(1.13,-.285)(1,-.285)
(.86,.24)(.91,.245)(.96,.245)(1.01,.245)(1.06,.245)(1.11,.245)(.85,.215)(.9,.215)(.95,.22)(1,.22)(1.05,.215)(1.1,.215)(1.15,.225)(.85,.2)(.9,.2)(.95,.2)(1,.2)(1.05,.2)(1.1,.2)(1.15,.2)(.87,.185)(.92,.185)(.97,.185)(1.02,.185)(1.07,.185)(1.12,.185)(.87,.17)(.92,.17)(.97,.17)(1.02,.17)(1.07,.17)(1.12,.17)(.9,.155)(.96,.155)(1.02,.155)(1.08,.155)(.9,.14)(.98,.14)(1.06,.14)};
\NB{1}{.231}{.2}{.193}{.187}{.137}{.25}{.007}
\addplot[ja] coordinates {(1.88,.25)(1.95,.25)(2.05,.25)(2.12,.25)(1.85,.235)(1.92,.232)(1.99,.236)(2.06,.232)(2.13,.235)(1.86,.218)(1.93,.215)(2,.218)(2.07,.215)(2.14,.218)(1.84,.2)(1.91,.198)(1.97,.2)(2.04,.197)(2.1,.2)(2.16,.197)(1.86,.183)(1.93,.18)(2,.183)(2.07,.18)(2.14,.182)(1.85,.165)(1.92,.163)(1.98,.165)(2.05,.162)(2.12,.165)(1.87,.147)(1.94,.145)(2.01,.147)(2.08,.145)(2.15,.147)(1.85,.128)(1.92,.125)(1.99,.128)(2.06,.125)(2.13,.127)(1.87,.108)(1.94,.105)(2.01,.108)(2.09,.105)(2.15,.108)(1.85,.088)(1.92,.085)(1.99,.088)(2.06,.085)(2.13,.087)(1.87,.067)(1.94,.065)(2.01,.067)(2.08,.065)(1.84,.045)(1.91,.042)(1.98,.045)(2.05,.042)(2.12,.044)(1.87,.022)(1.94,.02)(2.01,.022)(2.08,.02)(2.15,.02)(1.86,0)(1.93,-.003)(2,0)(2.07,-.003)(2.13,0)(1.88,-.025)(1.96,-.03)(2.04,-.025)(2.11,-.03)(1.85,-.05)(1.93,-.055)(2.01,-.05)(2.09,-.055)(2.16,-.05)(1.88,-.08)(1.96,-.085)(2.05,-.08)(2.13,-.085)(1.9,-.105)(1.98,-.11)(2.07,-.105)(2.15,-.11)(1.87,-.13)(1.94,-.135)(2.03,-.13)(2.1,-.135)(1.86,-.155)(1.93,-.16)(2.02,-.155)(2.12,-.16)(1.88,-.185)(1.96,-.19)(2.06,-.185)(2.12,-.19)(1.9,-.21)(1.98,-.205)(2.05,-.22)(1.92,-.24)(2.02,-.245)(1.94,-.275)(2,-.27)(1.97,-.285)(2.1,-.31)(1.97,-.33)(2.04,-.365)(2.02,-.42)(2.12,-.46)(2.04,-.61)};
\NB{2}{.178}{.117}{.101}{.088}{-.006}{.25}{-.272}
\addplot[jo] coordinates {(2.89,.25)(3.12,.25)(2.98,.246)(2.87,.213)(3.12,.2)(3.02,.234)(2.94,.157)(3.04,.157)(3.12,.175)(3,.121)(2.98,.094)(3.02,.067)(3,.027)(3.02,.009)(2.87,-.004)(3.12,.004)(2.96,-.03)(3.12,-.05)(3,-.135)(3.08,-.135)(3.1,-.18)(2.9,-.198)(3.14,-.21)(2.98,-.212)(3.06,-.216)(2.85,-.247)(2.98,-.24)(2.9,-.284)(3.08,-.284)(2.85,-.622)};
\NB{3}{.177}{.177}{.121}{.072}{-.065}{.25}{-.284}
\addplot[out] coordinates {(1,-.015)(1,-.025)(1,-.03)(1,-.045)(1,-.05)(1,-.07)(1,-.08)(1,-.1)(1,-.105)(1,-.135)(1,-.14)(1,-.155)(1,-.215)(1,-.25)(1,-.255)(1,-.285)(2,-.284)(2,-.311)(2,-.329)(2,-.367)(2,-.421)(2,-.458)(2,-.607)(3,-.62)};
\end{axis}

% (g)
\begin{axis}[scat,diffy,at={(182.4pt,-1502.8pt)},width=336.6pt,height=341.4pt,xmin=28.1,xmax=73.96,ymin=-.149,ymax=.5]
\addplot[mw] coordinates {(30,.322)(30,.3)(30,.214)(30,.17)(30,.129)(30,.037)(30,.018)(30,.011)(30,-.011)(31,.16)(31,.053)(31,.059)(31,.037)(32,.21)(33,.059)(33,.113)
(34,.132)(34,.119)(34,.11)(34,.002)(34,0)(35,.11)(35,.078)(35,.059)(35,.037)(35,.189)(35,.157)
(36,.09)(36,.078)(36,.059)(36,.043)(36,.034)(37,.244)(37,.034)(37,0)(38,.205)(38,.173)(38,.125)(38,.11)(38,.094)(38,.034)(38,0)
(39,.328)(39,.189)(39,.125)(39,.1)(39,.09)(39,.075)(39,0)(40,.24)(40,.078)(40,.02)(40,0)
(41,.207)(41,.207)(41,.04)(41,.02)(41,0)(41,0)(42,.414)(42,.141)(42,.103)(42,.078)(42,.04)(42,0)(42,0)
(43,.3)(43,.249)(43,.09)(43,.04)(43,0)(44,.288)(44,.116)(44,.11)(44,.097)(44,.04)(44,.03)(44,.011)
(45,.288)(45,.11)(45,.04)(45,.03)(45,0)(45,0)(46,.45)(46,.167)(46,.15)(46,.113)(46,.084)(46,.072)(46,.04)
(47,.244)(47,.11)(47,.097)(47,.078)(47,.04)(47,0)(47,0)(48,.15)(48,.135)(48,.125)(48,.11)(48,.04)(48,0)
(49,.2)(49,.094)(49,.078)(49,.04)(49,0)(50,.205)(50,.173)(50,.154)(50,.078)(50,.04)(50,.02)(50,0)(50,0)
(51,.316)(51,.135)(51,.053)(51,.027)(51,0)(51,0)(52,.28)(52,.167)(52,.059)(52,.027)(52,0)
(53,.09)(53,.04)(53,.02)(53,0)(53,0)(54,.28)(54,.205)(54,.065)(54,0)
(55,.233)(55,.217)(55,.154)(55,.132)(55,.1)(55,.053)(55,.02)(55,0)(56,.132)(56,.119)(56,.094)(56,.084)(56,.059)(56,.04)(56,0)
(57,.244)(57,.208)(57,.065)(57,.04)(57,0)(58,.336)(58,.17)(58,.148)(58,.106)(58,.084)(58,.046)(58,0)
(59,.211)(59,.192)(59,.17)(59,.151)(59,.151)(59,.1)(59,.04)(59,0)(60,.078)(60,.072)(60,.046)(60,0)
(61,.278)(61,.222)(61,.189)(61,.135)(61,.046)(61,0)(62,.144)(62,.046)(62,0)(63,.04)(63,0)(63,0)
(64,.207)(64,.207)(64,.19)(64,.078)(64,.078)(64,.04)(64,0)(65,.165)(65,.078)(65,.04)(65,0)
(66,.096)(66,.058)(66,.02)(66,0)(67,.284)(67,.225)(67,.225)(67,.121)(67,0)
(68,.16)(68,.156)(68,.11)(68,.046)(68,0)(69,.072)(69,.059)(69,.04)(69,.02)(69,0)(69,0)
(70,.059)(70,.04)(70,.027)(70,0)(71,.053)(71,.04)(71,.027)(71,0)(72,.037)(72,.03)(72,0)
(38,.02)(39,.04)(40,.01)(40,0)(41,.03)(42,.02)(43,.02)(43,0)(44,.02)(44,0)(45,.05)(46,.02)(46,0)(47,.02)(47,.055)(48,.02)(48,0)(49,.025)(49,0)(50,.03)(50,.055)(51,.04)(52,.04)(52,0)(53,.03)(53,.055)(54,.04)(54,.02)(54,0)(55,.03)(55,0)(56,.02)(56,0)(57,.025)(57,.05)(57,0)(58,.03)(58,.02)(59,.025)(59,0)(60,.03)(60,.02)(60,0)(61,.03)(61,.015)(62,.025)(62,0)(63,.025)(63,.05)(64,.025)(64,.055)(65,.025)(65,0)(66,.04)(66,0)(67,.04)(67,.02)(67,0)(68,.03)(68,.02)(69,.03)(69,.05)(70,.02)(70,.04)(70,0)(71,.02)(71,0)(72,.02)(41,.06)(44,.06)(48,.065)(52,.055)(56,.06)(60,.06)(63,.06)(45,.08)(49,.11)(51,.1)};
\addplot[fd=wp] coordinates {(30,.172)(35,.158)(40,.148)(45,.14)(50,.132)(55,.125)(60,.12)(65,.117)(72,.113)};
\addplot[fd=wp] coordinates {(30,.02)(35,.01)(40,-.002)(45,-.013)(50,-.022)(55,-.03)(60,-.035)(65,-.037)(72,-.04)};
\addplot[fl=wp] coordinates {(30,.097)(35,.08)(40,.068)(45,.058)(50,.05)(55,.045)(60,.04)(65,.037)(72,.037)};
\end{axis}

% (h)
\begin{axis}[scat,diffy,at={(560.4pt,-1502.8pt)},width=336.6pt,height=341.4pt,xmin=28.1,xmax=73.96,ymin=-.149,ymax=.5]
\addplot[ma] coordinates {(30,0)(32,.262)(33,.43)(35,.053)(35,.011)(35,-.017)(36,.135)(36,.037)(36,0)(37,.207)(37,.018)(37,0)(37,-.02)(38,.062)(38,0)
(39,.084)(39,.062)(39,.02)(39,.008)(39,0)(39,-.02)(39,-.124)(40,.301)(40,.188)(40,.148)(40,.132)(40,.059)(40,.03)(40,0)(41,0)(42,.203)(42,0)(42,.011)
(43,.113)(43,.103)(43,.094)(43,.027)(43,0)(44,.32)(44,.32)(44,.132)(44,.087)(44,.065)(44,0)(44,0)(44,-.02)(44,-.036)(44,-.075)
(45,.207)(45,.173)(45,.163)(45,.065)(45,.04)(45,0)(45,-.02)(46,.12)(46,.03)(46,0)(47,.06)(47,.01)(47,-.09)
(48,.337)(48,.281)(48,.17)(48,.113)(48,0)(48,-.042)(49,.192)(49,.189)(49,.068)(49,.027)(49,0)(49,0)
(50,.208)(50,.113)(50,.09)(50,.065)(50,.04)(50,0)(50,-.023)(51,.32)(51,.207)(51,.189)(51,.17)(51,.132)(51,.132)(51,.116)(51,.059)(51,.027)(51,0)
(52,.097)(52,.065)(52,.053)(52,.014)(53,.078)(53,0)(54,.273)(54,.252)(54,.189)(54,.176)(54,0)(54,-.042)(54,.04)
(55,.173)(55,.094)(55,.059)(55,.02)(55,0)(55,0)(56,.122)(56,0)(56,-.042)(57,.15)(57,.084)(57,.053)(57,.034)(57,0)(57,0)
(58,.301)(58,.224)(58,.116)(58,.097)(58,.046)(58,0)(59,.32)(59,.213)(59,.132)(59,.078)(59,.04)(59,0)(59,0)
(60,.434)(60,.205)(60,.186)(60,.103)(60,.09)(60,.04)(60,0)(61,.189)(61,.132)(61,.116)(61,.09)(61,.04)(61,0)(61,0)
(62,.414)(62,.325)(62,.246)(62,.227)(62,.207)(62,.173)(62,.129)(62,.04)(62,0)(63,.273)(63,.259)(63,.132)(63,-.093)(63,.04)(63,0)
(64,.135)(64,.09)(64,0)(64,.04)(65,.207)(65,.103)(65,.078)(65,.04)(65,.027)(65,0)(65,0)(65,-.02)(66,0)
(67,.094)(67,.027)(67,0)(67,0)(68,.182)(68,.132)(68,.094)(68,.053)(69,.227)(69,.207)(69,.192)(69,.122)(69,.078)(69,.02)(69,.02)(69,-.068)
(70,.17)(70,.113)(70,.04)(70,0)(71,.249)(71,.157)(71,.154)(71,.04)(71,.02)(71,0)(72,0)
(37,.03)(38,.03)(38,.01)(39,.01)(39,0)(39,.03)(40,.01)(41,.01)(41,-.01)(42,0)(42,.02)(43,.01)(44,.01)(44,.03)(44,0)(45,.02)(45,.01)(48,.02)(48,.01)(49,.01)(49,.04)(50,.02)(50,.01)(50,0)(51,.04)(51,.01)(52,.03)(52,0)(53,.02)(53,0)(54,.02)(54,.01)(55,.03)(55,.01)(56,.02)(56,.06)(57,.01)(57,.02)(58,.015)(58,0)(58,.03)(59,.03)(59,.02)(59,.01)(60,.03)(60,.02)(60,.01)(60,.05)(61,.02)(61,.03)(61,.01)(62,.03)(62,.01)(63,.03)(63,.015)(63,.05)(64,.02)(64,.01)(64,.06)(65,.01)(65,.015)(65,.05)(65,0)(66,0)(66,.01)(67,0)(67,.01)(68,0)(68,.02)(69,.03)(69,0)(70,.02)(71,.01)(62,.1)(64,.12)(66,.11)(60,.12)(58,.11)(51,.11)(51,.09)(53,.06)};
\addplot[fd=asd] coordinates {(30,.147)(40,.15)(50,.155)(60,.163)(72,.172)};
\addplot[fd=asd] coordinates {(30,-.062)(40,-.055)(50,-.047)(60,-.04)(72,-.032)};
\addplot[fl=asd] coordinates {(30,.042)(40,.045)(50,.05)(60,.058)(72,.07)};
\end{axis}

% (i)
\begin{axis}[base,diffy,at={(981.8pt,-1502.8pt)},width=299.7pt,height=346.8pt,xmin=.506,xmax=3.494,ymin=-.149,ymax=.502,xtick={1,2,3},xticklabels={WP,ASD,OND}]
\addplot[jw] coordinates {(.85,0)(.89,0)(.93,0)(.97,0)(1.01,0)(1.05,0)(1.09,0)(1.13,0)(.87,.006)(.91,.006)(.95,.006)(.99,.006)(1.03,.006)(1.07,.006)(1.11,.006)(.85,.012)(.9,.012)(.96,.012)(1,.012)(1.05,.012)(1.1,.012)(1.14,.012)(.87,.02)(.92,.02)(.97,.02)(1.02,.02)(1.07,.02)(1.12,.02)(.85,.028)(.91,.028)(.96,.028)(1.01,.028)(1.06,.028)(1.12,.028)(.88,.036)(.94,.036)(1,.036)(1.05,.036)(1.11,.036)(.86,.045)(.92,.045)(.98,.045)(1.03,.045)(1.09,.045)(1.14,.045)(.88,.055)(.95,.055)(1.01,.055)(1.08,.055)(.86,.066)(.93,.066)(1,.066)(1.07,.066)(1.13,.066)(.89,.078)(.97,.078)(1.05,.078)(1.12,.078)(.87,.09)(.94,.09)(1.02,.09)(1.1,.09)(.86,.105)(.92,.105)(1,.105)(1.08,.105)(1.13,.105)(.89,.12)(.96,.12)(1.04,.12)(1.12,.12)(.87,.135)(.93,.135)(1.02,.135)(1.1,.135)(.86,.15)(.95,.15)(1.05,.15)(1.14,.15)(.88,.165)(.97,.165)(1.07,.165)(1.13,.17)(.9,.18)(1,.18)(1.11,.185)(.92,.195)(1.04,.2)(1.12,.19)(.9,.215)(.96,.22)(1.06,.21)(1.14,.21)(.85,.225)(.92,.235)(1.1,.23)(1.12,.245)(.99,.245)(.88,.28)(.95,.285)(1.07,.285)(1.08,.3)(1,.3)(1.06,.32)(.97,.32)(.87,.335)(1,.338)(1.07,.415)(1.06,.45)(.87,-.012)(1.0,-.01)
(.87,.003)(.92,.003)(.97,.003)(1.02,.003)(1.07,.003)(1.12,.003)(.88,.01)(.93,.01)(.98,.01)(1.03,.01)(1.08,.01)(.87,.016)(.92,.016)(.97,.016)(1.02,.016)(1.07,.016)(1.12,.016)(.89,.024)(.94,.024)(.99,.024)(1.04,.024)(1.09,.024)(.9,.032)(.96,.032)(1.02,.032)(1.08,.032)(.89,.04)(.96,.042)(1.03,.04)(1.1,.04)};
\NB{1}{.082}{.037}{.03}{.026}{0}{.205}{-.012}
\addplot[ja] coordinates {(1.85,0)(1.9,0)(1.95,0)(2,0)(2.05,0)(2.1,0)(2.15,0)(1.87,.007)(1.93,.007)(1.98,.007)(2.03,.007)(2.08,.007)(2.13,.007)(1.86,.015)(1.92,.015)(1.97,.015)(2.02,.015)(2.07,.015)(2.12,.015)(1.88,.024)(1.94,.024)(2,.024)(2.06,.024)(2.12,.024)(1.87,.033)(1.93,.033)(1.99,.033)(2.05,.033)(2.11,.033)(1.86,.042)(1.93,.042)(2,.042)(2.07,.042)(2.14,.042)(1.89,.053)(1.96,.053)(2.03,.053)(2.1,.053)(1.87,.065)(1.94,.065)(2.02,.065)(2.1,.065)(1.89,.078)(1.97,.078)(2.05,.078)(2.12,.078)(1.87,.09)(1.94,.09)(2.02,.09)(2.1,.09)(1.89,.105)(1.97,.105)(2.06,.105)(2.13,.105)(1.9,.12)(2,.12)(2.1,.12)(1.87,.135)(1.95,.135)(2.05,.135)(2.12,.135)(1.9,.155)(2.02,.155)(2.1,.16)(1.95,.17)(2.06,.175)(2.12,.18)(1.93,.19)(2.04,.195)(2.1,.2)(1.96,.21)(2.08,.215)(1.92,.225)(2.06,.235)(2.1,.245)(1.95,.255)(1.87,.275)(2.02,.28)(1.88,.3)(1.93,.32)(2,.32)(2.1,.335)(1.87,-.01)(1.95,-.012)(2.05,-.012)(2.13,-.008)(1.9,-.025)(2,-.03)(2.08,-.022)(1.86,-.042)(2.07,-.045)(1.97,-.07)(2.04,-.08)(1.93,-.093)(2.13,-.093)(2.01,-.124)(1.87,.43)(2,.43)(2,.415)
(1.88,.003)(1.93,.003)(1.98,.003)(2.03,.003)(2.08,.003)(2.13,.003)(1.9,.012)(1.95,.012)(2,.012)(2.05,.012)(2.1,.012)(1.9,.02)(1.96,.02)(2.02,.02)(2.08,.02)(1.92,.03)(1.98,.03)(2.04,.03)(2.1,.03)(1.93,.045)(2.01,.045)(2.08,.045)};
\NB{2}{.094}{.03}{.021}{.016}{0}{.225}{-.123}
\addplot[jo] coordinates {(2.91,.245)(3.15,.243)(2.95,.222)(2.87,.183)(3,.186)(3.15,.16)(2.91,.15)(2.87,.14)(3.15,.13)(3.02,.125)(2.93,.092)(3,.086)(2.93,.079)(3.06,.07)(3.08,.06)(2.93,.04)(3,.027)(2.91,.017)(3.04,.014)(2.96,.005)(3.11,.005)(3.13,-.021)(2.91,-.041)(3.15,-.057)(3,-.018)(2.82,.001)(3.17,.011)(2.9,-.005)(3,.412)};
\NB{3}{.126}{.057}{.032}{0}{0}{.27}{-.057}
\addplot[out] coordinates {(1,.45)(1,.413)(1,.338)(1,.325)(1,.32)(1,.3)(1,.285)(1,.28)(1,.275)(1,.245)(1,.24)(1,.23)(1,.22)(1,.215)(2,.434)(2,.428)(2,.413)(2,.338)(2,.322)(2,.32)(2,.302)(2,.282)(2,.272)(2,.255)(2,.25)(2,.245)(2,.24)(3,.412)};
\end{axis}

\begin{scope}[x=1pt,y=-1pt]
\begin{scope}[every node/.style={anchor=west,inner sep=0pt,text=black!82,font=\fs{21}}]
\node at (161.6,98) {WP};\node at (250,98) {ASD};\node at (351,98) {OND};\node at (456,98) {2nd order fit};\node at (625,98) {68\% P};
\end{scope}
\begin{scope}[every node/.style={inner sep=0pt,text=black!68,font=\fs{36}\itshape}]
\node at (152,156) {(a)};\node at (536,156) {(b)};\node at (929,156) {(c)};
\node at (153.5,640) {(d)};\node at (548,640) {(e)};\node at (923,640) {(f)};
\node at (166,1124) {(g)};\node at (549,1124) {(h)};\node at (925,1124) {(i)};
\end{scope}
\begin{scope}[every node/.style={inner sep=0pt,text=black!90,font=\symf\fs{20.5}}]
\node at (243,171) {★★★};\node at (1076.5,177.5) {★★★};\node at (1126.5,201.5) {★★★};
\node at (244,659.5) {★★★};\node at (628.4,659.5) {★};\node at (1078,626) {★★★};\node at (1127.6,659.5) {★★★};
\node at (250.8,1143.5) {★★★};\node at (629,1143.5) {★};
\end{scope}
\begin{scope}[every node/.style={inner sep=0pt,text=black!90,font=\fs{18}\bfseries}]
\node at (343.7,175) {WP};\node at (727.5,174.5) {ASD};\node at (343,663) {WP};\node at (727.8,663) {ASD};\node at (351,1147) {WP};\node at (729,1147) {ASD};
\end{scope}
\begin{scope}[every node/.style={anchor=west,inner sep=0pt,text=black!85,font=\fs{20}}]
\node at (192,193) {p = 7.5e-10};\node at (195.5,213) {r = 0.29};
\node at (576,193) {p = 0.233};\node at (579.5,213) {r = 0.06};
\node at (192,682) {p = 1.0e-07};\node at (195.5,701.5) {r = 0.25};
\node at (576,682) {p = 0.044};\node at (579.5,701.5) {r = 0.10};
\node at (199,1166) {p = 7.2e-06};\node at (202.6,1186) {r = -0.21};
\node at (577,1166) {p = 0.022};\node at (580.5,1186) {r = 0.12};
\end{scope}
\begin{scope}[every node/.style={inner sep=0pt,text=black!72,font=\fs{20}}]
\node at (343.5,575) {Age (months)};\node at (727.5,575) {Age (months)};
\node at (343.5,1064) {Age (months)};\node at (727.5,1064) {Age (months)};
\node at (351,1548) {Age (months)};\node at (729,1548) {Age (months)};
\end{scope}
\begin{scope}[every node/.style={inner sep=0pt,text=black!78,font=\fs{30.5},rotate=90}]
\node at (117,358) {Direct sharing score};\node at (110.5,844) {Indirect sharing score};\node at (116.6,1309) {Sharing score difference};
\end{scope}
\draw[black!55,line width=1.2pt] (1028.3,191.4) -- (1028.3,185.2) -- (1128.7,185.2) -- (1128.7,191.4);
\draw[black!55,line width=1.2pt] (1028.3,217) -- (1028.3,210) -- (1229,210) -- (1229,217);
\draw[black!55,line width=1.2pt] (1030,647) -- (1030,637) -- (1130,637) -- (1130,647);
\draw[black!55,line width=1.2pt] (1030,680) -- (1030,670.7) -- (1229,670.7) -- (1229,680);
\fill[tdark,fill opacity=.3] (765.4,38) rectangle (778.4,1594);
\fill[tdark] (688.4,0) rectangle (702.8,1623);
\end{scope}
\end{tikzpicture}
\end{document}
